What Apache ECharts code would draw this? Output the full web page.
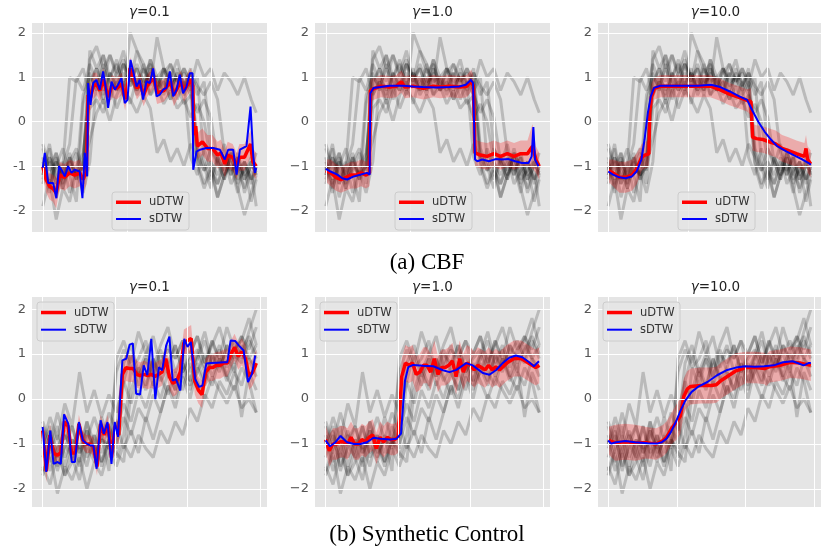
<!DOCTYPE html>
<html><head><meta charset="utf-8">
<script src="https://cdn.jsdelivr.net/npm/echarts@6/dist/echarts.min.js"></script>
<style>html,body{margin:0;padding:0;background:#fff}#c{width:821px;height:550px}</style>
</head><body><div id="c"></div>
<script>
// ---------- tick labels / names ----------
const gammaLabels = ['0.1', '1.0', '10.0'];
const yTicks = [-2, -1, 0, 1, 2];
const cbfXTicks = [0, 50, 100];
const scXTicks = [0, 20, 40, 60];
const legendNames = ['uDTW', 'sDTW'];
const captions = ['(a) CBF', '(b) Synthetic Control'];

// ---------- CBF dataset samples (grey), sampled every 4 steps of 128 ----------
const cbfGray1 = [-0.9,-1.3,-0.7,-1.5,-1.0,-1.2,-0.8,0.9,1.2,0.6,1.0,1.4,0.7,1.1,0.8,1.3,0.6,1.0,1.2,0.7,1.1,0.9,-0.8,-1.2,-0.6,-1.1,-1.4,-0.9,-1.2,-0.7,-1.3,-1.0,-1.1];
const cbfGray2 = [-1.2,-0.6,-1.4,-1.0,-0.5,1.0,0.7,1.3,0.9,1.5,0.8,1.1,1.6,0.9,1.2,0.7,1.4,1.0,0.8,1.3,0.9,1.1,0.7,1.0,-0.9,-1.3,-0.8,-1.1,-0.6,-1.2,-0.9,-1.4,-1.0];
const cbfGray3 = [-1.0,-1.6,-0.8,-1.3,-1.1,-0.7,-1.4,0.3,0.5,0.2,0.7,0.9,0.6,2.0,1.6,1.3,0.8,1.9,1.2,1.0,1.4,0.8,1.2,-0.6,-1.0,-1.5,-0.8,-1.2,-1.0,-1.6,-0.9,-1.3,-1.1];
const cbfGray4 = [-0.6,-1.1,-0.9,-1.4,-0.8,-1.2,-1.0,1.4,1.7,1.2,1.5,1.1,1.4,1.0,1.2,0.8,1.1,0.7,0.9,0.5,0.8,0.4,0.6,0.2,0.5,0.1,-0.9,-1.3,-0.7,-1.1,-1.5,-0.9,-1.2];
const cbfGray5 = [-1.1,-0.5,-1.3,-0.9,-1.6,-1.0,-0.7,0.6,0.9,0.4,0.8,0.3,0.7,0.5,0.2,0.6,0.3,-0.7,-0.4,-0.9,-0.6,-1.0,-0.5,-0.8,-1.1,-0.6,-0.9,-1.3,-0.7,-1.0,-1.2,-0.8,-1.0];
const cbfGray6 = [-1.4,-0.9,-1.7,-1.2,-0.8,-1.3,-1.0,-0.4,0.2,0.5,0.0,0.6,0.9,0.4,1.0,0.7,1.2,0.8,1.1,1.3,0.9,1.2,0.8,1.4,1.0,1.2,0.7,1.1,0.9,0.6,1.0,0.5,0.2];
const cbfGray7 = [-0.8,-1.5,-1.0,-0.6,-1.2,-1.8,0.4,1.1,0.7,1.3,0.5,1.0,0.8,1.2,0.6,0.9,1.4,0.7,1.0,0.5,1.2,0.8,1.1,0.6,0.9,-0.6,-1.0,-0.5,-1.2,-0.8,-1.6,-1.1,-1.9];
const cbfGray8 = [-1.9,-1.3,-2.2,-1.5,-1.8,-1.1,-1.6,-0.9,0.9,0.5,1.1,0.7,1.3,0.8,1.0,0.6,1.2,0.9,0.7,1.1,0.5,0.9,0.6,-1.0,-1.5,-1.1,-1.7,-1.2,-0.8,-1.4,-1.0,-1.8,-1.3];
const cbfGray9 = [-0.5,-1.0,-0.7,-1.2,-0.9,-0.6,-1.1,0.8,1.2,0.9,1.5,1.0,1.3,0.9,1.6,1.1,1.3,0.8,1.2,0.9,1.0,0.7,1.1,0.8,0.6,0.9,0.5,-0.7,-1.1,-0.8,-1.3,-1.0,-0.7];
const cbfGray10 = [-1.2,-0.8,-1.4,-1.0,1.0,0.9,1.2,0.6,1.0,0.7,1.1,0.8,1.3,1.0,0.7,1.2,0.9,1.0,0.6,1.1,0.8,1.2,0.9,-0.9,-1.4,-1.0,-1.7,-1.2,-0.9,-1.5,-2.1,-1.6,-1.2];
const cbfGray11 = [-1.0,-1.4,-0.9,-1.2,-0.7,-1.3,0.6,1.0,0.8,1.2,0.9,0.7,1.1,0.8,1.3,0.9,1.0,0.7,1.2,0.8,1.0,0.6,0.9,-0.7,-1.1,-0.9,-1.4,-1.0,-0.8,-1.3,-1.1,-0.9,-1.2];
const cbfGray12 = [-1.3,-0.8,-1.1,-1.5,-0.9,-1.2,-1.0,1.6,1.2,1.5,1.0,1.3,0.9,1.1,0.7,1.0,0.6,0.8,0.4,0.7,0.3,0.5,0.1,0.4,0.0,-0.9,-1.2,-0.8,-1.4,-1.1,-0.9,-1.3,-1.0];
const cbfGray = [cbfGray1,cbfGray2,cbfGray3,cbfGray4,cbfGray5,cbfGray6,cbfGray7,cbfGray8,cbfGray9,cbfGray10,cbfGray11,cbfGray12];

// ---------- Synthetic Control dataset samples (grey), 30 samples over 60 steps ----------
const scGray1 = [-0.6,-1.2,-0.8,-1.5,-0.9,-1.1,-0.5,-1.3,-0.9,-1.0,-0.7,0.8,1.2,0.6,1.0,1.4,0.7,1.1,0.9,1.3,0.6,1.0,1.5,0.8,1.2,0.7,1.1,1.4,0.9,1.2];
const scGray2 = [-1.1,-0.7,-1.6,-1.0,-1.3,-0.6,-1.2,-0.8,-1.4,-0.9,-1.1,0.4,1.0,0.5,0.9,0.3,0.8,1.2,0.6,1.0,0.4,0.9,1.3,0.7,1.1,0.5,1.0,0.8,1.3,0.9];
const scGray3 = [-1.5,-1.9,-1.2,-1.7,-1.4,-1.0,-1.5,-0.8,-1.2,-0.6,-1.0,-0.4,-0.8,-0.2,-0.5,0.1,-0.3,0.3,0.0,0.6,0.2,0.8,0.4,1.0,0.7,1.2,0.9,1.4,1.1,1.6];
const scGray4 = [-1.0,-0.4,-0.9,-0.1,-0.6,0.6,-0.3,0.2,-0.4,0.1,-0.3,0.4,-0.1,0.6,0.2,0.9,0.4,0.7,1.2,0.6,1.0,1.4,0.8,1.3,0.9,1.6,1.1,1.3,1.8,1.2];
const scGray5 = [-0.8,-1.4,-1.0,-1.7,-1.1,-0.6,-1.3,-1.0,-1.5,-0.9,-1.2,-1.4,0.2,0.7,0.3,0.9,0.5,0.1,0.6,0.2,0.8,0.4,0.0,0.5,0.2,-0.1,0.3,-0.2,0.0,-0.3];
const scGray6 = [-1.7,-1.2,-2.1,-1.5,-1.8,-1.3,-2.0,-1.4,-1.7,-1.1,-1.5,-1.0,-1.3,-0.8,-1.1,-1.3,-0.7,-1.0,-0.5,-0.8,-0.2,-0.5,0.1,-0.2,0.4,0.1,0.6,0.3,0.9,0.5];
const scGray7 = [-0.9,-1.6,-1.1,-0.7,-1.3,-1.8,-1.0,-1.4,-0.8,-1.6,0.9,1.3,0.8,1.5,1.0,0.7,1.2,1.6,0.9,1.3,1.0,1.4,0.8,1.2,1.6,1.0,1.3,0.9,1.5,2.0];
const scGray8 = [-1.3,-0.8,-1.5,-1.1,-0.6,-1.2,-0.9,-0.4,-0.9,-0.3,-0.7,-0.1,-0.5,0.2,-0.2,0.4,0.0,0.6,0.2,0.8,0.3,0.6,1.0,0.5,0.9,0.4,0.8,-0.4,0.6,0.2];
const scGray9 = [-0.5,-1.0,-0.3,-0.9,-0.6,-1.2,-0.7,-1.1,-0.4,-0.9,-1.3,-0.8,0.7,0.3,0.9,0.5,1.1,0.6,0.2,0.8,0.4,1.0,0.6,0.3,0.9,0.5,0.2,0.7,0.4,-0.3];
const scGray10 = [-1.6,-1.1,-0.6,-1.3,-0.9,-1.4,-0.5,-1.0,-1.4,-0.9,-0.5,-1.1,-0.7,-1.2,-0.4,-0.9,-0.3,0.3,-0.2,0.5,0.0,0.7,0.3,1.0,0.6,1.2,0.8,1.1,1.4,1.0];
const scGray11 = [-1.0,-0.6,-1.3,-0.8,-1.1,-1.5,-0.7,-1.2,-0.9,-1.1,0.6,1.1,0.7,0.9,1.3,0.5,1.0,0.8,1.2,0.6,0.9,1.1,0.7,1.3,0.8,1.0,0.6,1.2,0.9,0.7];
const scGray = [scGray1,scGray2,scGray3,scGray4,scGray5,scGray6,scGray7,scGray8,scGray9,scGray10,scGray11];

// ---------- uDTW barycenters: [t, mean, spread] ----------
const cbfRed01 = [[0,-1.0,0.2],[2,-1.3,0.3],[4,-1.45,0.3],[6,-1.5,0.3],[8,-1.6,0.35],[10,-1.2,0.3],[13,-1.25,0.3],[16,-1.15,0.3],[19,-1.2,0.3],[22,-1.15,0.3],[24,-1.3,0.3],[26,-1.1,0.3],[27,0.6,0.3],[28.5,0.55,0.3],[30,0.8,0.3],[32,0.85,0.25],[34,0.7,0.25],[36,0.95,0.25],[39,0.55,0.25],[41,0.8,0.25],[44,0.75,0.25],[47,0.85,0.25],[49,0.5,0.25],[52,1.2,0.25],[54,1.0,0.25],[56,0.75,0.25],[58,0.85,0.25],[60,0.6,0.25],[62,0.8,0.25],[66,1.0,0.25],[68,0.65,0.25],[72,0.7,0.25],[76,0.9,0.25],[78,0.6,0.25],[82,0.9,0.25],[84,0.7,0.25],[88,0.95,0.25],[89.3,0.8,0.25],[89.8,-0.3,0.3],[91,-0.1,0.3],[92,-0.55,0.3],[95,-0.45,0.3],[98,-0.6,0.3],[101,-0.6,0.3],[104,-0.75,0.3],[106,-0.7,0.3],[108.3,-0.95,0.3],[110,-0.75,0.3],[113,-0.8,0.3],[115.3,-1.0,0.3],[117,-0.8,0.3],[120,-0.8,0.3],[123.6,-0.5,0.3],[125,-0.9,0.3],[127,-1.0,0.3]];
const cbfRed1 = [[0,-1.1,0.25],[3,-1.15,0.3],[6,-1.25,0.3],[9,-1.3,0.3],[12,-1.25,0.3],[15,-1.2,0.3],[18,-1.2,0.3],[21,-1.15,0.3],[24,-1.2,0.3],[26,-1.15,0.3],[26.5,0.7,0.25],[29,0.75,0.25],[33,0.8,0.25],[38,0.78,0.25],[42,0.8,0.25],[45,0.9,0.25],[47,0.78,0.25],[52,0.8,0.25],[58,0.75,0.25],[64,0.8,0.25],[68,0.78,0.25],[74,0.8,0.25],[80,0.78,0.25],[84,0.8,0.25],[86.5,0.92,0.25],[87.8,0.8,0.25],[88.8,-0.7,0.3],[92,-0.75,0.3],[96,-0.78,0.3],[100,-0.72,0.3],[104,-0.78,0.3],[108,-0.72,0.3],[112,-0.78,0.3],[116,-0.72,0.3],[120,-0.72,0.3],[123,-0.55,0.5],[125,-0.85,0.3],[127,-1.0,0.3]];
const cbfRed10 = [[0,-1.1,0.25],[3,-1.15,0.3],[7,-1.25,0.35],[11,-1.25,0.35],[15,-1.2,0.35],[18,-1.05,0.35],[21,-0.8,0.3],[23,-0.75,0.3],[25.5,-0.72,0.3],[26,0.2,0.3],[27,0.55,0.3],[29,0.75,0.25],[33,0.8,0.25],[41,0.8,0.25],[49,0.8,0.25],[57,0.8,0.25],[64,0.8,0.25],[70,0.72,0.25],[76,0.62,0.25],[82,0.55,0.25],[87,0.48,0.25],[89.5,0.45,0.3],[90.5,-0.35,0.3],[93,-0.38,0.3],[97,-0.4,0.3],[101,-0.45,0.3],[105,-0.5,0.3],[109,-0.6,0.3],[113,-0.65,0.3],[118,-0.72,0.3],[123,-0.78,0.3],[124,-0.6,0.3],[125,-0.85,0.3],[127,-0.95,0.3]];
const scRed01 = [[0,-0.7,0.25],[1,-1.6,0.25],[2,-0.8,0.25],[3,-1.2,0.2],[4,-1.25,0.2],[5,-1.2,0.2],[6,-0.5,0.2],[7,-0.6,0.2],[8,-1.2,0.2],[9,-1.2,0.2],[10,-0.55,0.2],[11,-0.9,0.2],[12,-1.0,0.2],[13,-1.0,0.2],[14,-1.05,0.2],[15,-1.5,0.2],[16,-0.55,0.2],[17,-0.8,0.2],[18,-0.55,0.2],[19,-1.3,0.2],[20,-0.6,0.2],[21,-0.8,0.25],[22,0.55,0.3],[23,0.7,0.3],[24,0.68,0.3],[25,0.68,0.3],[26,0.55,0.3],[27,0.52,0.3],[28,0.55,0.3],[29,0.52,0.3],[30,0.55,0.3],[31,0.5,0.3],[32,0.55,0.3],[33,0.6,0.3],[34,0.9,0.3],[35,0.5,0.3],[36,0.35,0.3],[37,0.4,0.3],[38,0.6,0.3],[39,1.25,0.3],[40,1.3,0.3],[41,1.35,0.3],[42,0.4,0.3],[43,0.2,0.3],[44,0.1,0.3],[45,0.6,0.3],[46,0.7,0.3],[47,0.7,0.3],[48,0.75,0.3],[49,0.75,0.3],[50,0.8,0.3],[51,0.8,0.3],[52,1.0,0.3],[53,1.15,0.3],[54,0.95,0.3],[55,1.05,0.3],[56,0.9,0.3],[57,0.5,0.3],[58,0.6,0.3],[59,0.8,0.3]];
const scRed1 = [[0,-0.9,0.3],[1,-1.15,0.35],[2,-1.0,0.35],[3,-1.0,0.35],[4,-0.95,0.35],[5,-0.95,0.35],[6,-1.0,0.35],[7,-0.85,0.35],[8,-1.0,0.35],[9,-1.0,0.35],[10,-0.9,0.35],[11,-0.95,0.35],[12,-0.85,0.35],[13,-0.8,0.35],[14,-1.1,0.35],[15,-0.85,0.35],[16,-0.95,0.35],[17,-0.85,0.35],[18,-0.9,0.35],[19,-0.9,0.35],[20,-0.85,0.35],[21,0.5,0.4],[22,0.8,0.4],[23,0.75,0.4],[24,0.8,0.4],[25,0.55,0.4],[26,0.6,0.4],[27,0.75,0.4],[28,0.75,0.4],[29,0.6,0.4],[30,0.9,0.4],[31,0.55,0.4],[32,0.7,0.4],[33,0.7,0.4],[34,0.75,0.4],[35,0.85,0.4],[36,0.5,0.4],[37,0.9,0.4],[38,0.6,0.4],[39,0.8,0.4],[40,0.75,0.4],[41,0.65,0.4],[42,0.75,0.4],[43,0.7,0.4],[44,0.65,0.4],[45,0.75,0.4],[46,0.65,0.4],[47,0.72,0.4],[48,0.65,0.4],[50,0.8,0.4],[52,0.9,0.4],[54,0.9,0.4],[56,0.8,0.4],[58,0.7,0.4],[59,0.75,0.4]];
const scRed10 = [[0,-0.92,0.3],[2,-0.97,0.4],[5,-0.95,0.4],[8,-0.97,0.4],[11,-0.97,0.35],[14,-1.0,0.35],[16,-0.92,0.35],[17,-0.85,0.35],[18.5,-0.65,0.35],[20,-0.5,0.4],[21,-0.38,0.4],[22,0.05,0.4],[23,0.22,0.4],[24,0.28,0.4],[27,0.3,0.4],[30,0.3,0.4],[31.5,0.32,0.4],[33,0.42,0.4],[35,0.52,0.4],[37,0.62,0.4],[40,0.7,0.35],[43,0.7,0.35],[45.5,0.68,0.35],[46,0.64,0.35],[47,0.72,0.35],[50,0.75,0.35],[53,0.82,0.35],[56,0.8,0.35],[59,0.75,0.35]];

// ---------- sDTW barycenters: [t, value] ----------
const cbfBlue01 = [[0,-1.04],[1.2,-0.7],[3.2,-1.38],[6.2,-1.38],[8.1,-1.72],[9.7,-1.0],[11.1,-1.08],[13.1,-1.23],[15.1,-1.0],[17.1,-1.15],[19,-1.08],[22,-1.12],[23.6,-1.72],[25,-0.7],[26.4,-1.23],[27,0.87],[28.4,0.38],[30,0.87],[31.9,0.94],[33.9,0.72],[35.9,1.13],[37.5,0.76],[38.9,0.31],[40.9,0.9],[42.9,0.72],[44.8,0.83],[46.8,0.98],[48.8,0.42],[50.4,0.49],[52.2,1.39],[53.8,1.13],[55.8,0.79],[57.7,0.94],[59.7,0.5],[61.7,0.91],[63.7,0.87],[65.7,1.2],[67.7,0.57],[69.6,0.61],[71.6,0.72],[73.6,0.76],[75.6,1.13],[77.6,0.57],[79.6,0.72],[81.5,1.06],[83.5,0.64],[85.5,0.79],[87.5,1.09],[89.1,1.09],[89.5,-1.08],[91.5,-0.67],[93.5,-0.63],[97.4,-0.59],[101.4,-0.59],[105.4,-0.63],[108.3,-0.85],[110.3,-0.63],[113.3,-0.63],[115.3,-1.19],[117.3,-0.63],[121.2,-0.55],[123.6,0.34],[125.2,-0.75],[126.2,-1.15],[127,-1.04]];
const cbfBlue1 = [[0,-1.06],[2.9,-1.12],[6.9,-1.19],[9.8,-1.27],[12.7,-1.3],[16.7,-1.23],[20.6,-1.19],[24.5,-1.15],[26.1,-1.19],[26.5,0.64],[28.4,0.76],[32.4,0.78],[38.2,0.81],[46.1,0.81],[52,0.79],[57.8,0.78],[65.7,0.77],[73.5,0.78],[79.4,0.79],[83.3,0.83],[86.3,0.94],[87.6,0.87],[88.8,-0.85],[90.2,-0.89],[93.1,-0.85],[97.1,-0.89],[101,-0.84],[104.9,-0.85],[108.8,-0.84],[112.7,-0.89],[116.7,-0.93],[120.6,-0.93],[122.5,-0.78],[123.5,-0.12],[124.5,-0.85],[126.5,-1.0]];
const cbfBlue10 = [[0,-1.12],[3,-1.19],[6.9,-1.25],[10.9,-1.27],[14.9,-1.23],[17.8,-1.12],[20.8,-0.85],[22.8,-0.4],[24.8,0.19],[26.7,0.57],[28.7,0.76],[32.7,0.81],[40.6,0.81],[48.5,0.81],[56.4,0.81],[64.4,0.83],[70.3,0.78],[76.2,0.68],[82.2,0.57],[87.1,0.49],[90.1,0.27],[94.1,0],[98,-0.22],[102,-0.4],[105.9,-0.55],[111.9,-0.67],[117.8,-0.78],[121.8,-0.85],[125.7,-0.93],[127,-0.97]];
const scBlue01 = [[0,-0.62],[1,-1.62],[2.1,-0.7],[3,-1.44],[4.1,-1.4],[5,-1.44],[5.9,-0.34],[7.1,-0.55],[8,-1.4],[8.9,-1.4],[10,-0.51],[11.1,-0.92],[12.1,-0.99],[13.1,-1.03],[14,-1.03],[14.9,-1.55],[16,-0.47],[16.9,-0.77],[17.9,-0.51],[19,-1.44],[19.9,-0.51],[20.8,-0.84],[22,0.86],[23.1,0.9],[24,1.21],[24.9,1.24],[25.8,0.12],[26.9,0.1],[27.9,0.75],[28.9,0.53],[30,1.34],[31.1,0.0],[32.1,0.71],[33,0.64],[34.1,1.19],[35,1.39],[35.9,0.41],[36.8,0.45],[38,0.19],[39.1,1.34],[40,1.16],[40.9,1.27],[42.1,0.45],[43.2,0.27],[44.1,0.3],[45.2,0.79],[46.4,0.8],[48.2,0.81],[50,0.82],[51,0.82],[51.9,1.3],[53.2,1.29],[54.2,1.19],[55.5,1.08],[56.7,0.38],[57.8,0.56],[58.7,0.97]];
const scBlue1 = [[0,-0.92],[1.2,-1.05],[2.7,-0.96],[4.1,-0.82],[5.9,-0.96],[7.8,-1.0],[9.6,-1.0],[11.4,-0.96],[13.2,-0.86],[15.1,-0.88],[17.8,-0.9],[19.6,-0.88],[20.8,-0.77],[21.9,0.41],[22.8,0.71],[24.2,0.76],[26.9,0.74],[29.7,0.73],[32.4,0.64],[34.2,0.6],[36.1,0.65],[38.8,0.8],[40.6,0.75],[43.4,0.58],[45.2,0.54],[47,0.64],[48.9,0.8],[50.7,0.92],[52.5,0.97],[54.3,0.93],[56.2,0.82],[57.5,0.73],[58.9,0.84]];
const scBlue10 = [[0,-0.92],[0.9,-0.99],[2.3,-0.96],[5,-0.93],[7.8,-0.96],[11.5,-0.98],[14.2,-0.99],[15.6,-0.96],[17,-0.88],[18.3,-0.73],[19.7,-0.51],[21.1,-0.25],[22.5,-0.03],[24.3,0.16],[26.1,0.27],[28.9,0.38],[31.7,0.53],[34.4,0.64],[37.2,0.7],[39.9,0.73],[42.7,0.72],[45.4,0.73],[48.2,0.75],[50.9,0.82],[53.7,0.84],[55.5,0.79],[56.9,0.75],[58.3,0.8],[59,0.8]];

// ---------- layout ----------
const PANEL_LEFTS = [32, 315, 598];
const PANEL_W = 235;
const ROWS = [
  { top: 23, h: 209, ymin: -2.48, ymax: 2.22, xmin: -6.4, xmax: 133.4, xTicks: cbfXTicks,
    gray: cbfGray, grayX: i => Math.min(i * 4, 127), reds: [cbfRed01, cbfRed1, cbfRed10], blues: [cbfBlue01, cbfBlue1, cbfBlue10],
    legTop: 192, legLeft: 80, legH: 38, titleY: 12, caption: captions[0], capY: 263 },
  { top: 297, h: 210, ymin: -2.4, ymax: 2.27, xmin: -2.95, xmax: 61.95, xTicks: scXTicks,
    gray: scGray, grayX: i => i * 59 / 29, reds: [scRed01, scRed1, scRed10], blues: [scBlue01, scBlue1, scBlue10],
    legTop: 302, legLeft: 5, legH: 39, titleY: 287, caption: captions[1], capY: 535 }
];

const grid = [], xAxis = [], yAxis = [], series = [], graphic = [];
ROWS.forEach((R, r) => {
  PANEL_LEFTS.forEach((L, c) => {
    const k = r * 3 + c;
    grid.push({ left: L, top: R.top, width: PANEL_W, height: R.h, show: true, backgroundColor: '#E5E5E5', borderWidth: 0, containLabel: false });
    xAxis.push({ type: 'value', gridIndex: k, min: R.xmin, max: R.xmax,
      axisLine: { show: false }, axisTick: { show: false }, axisLabel: { show: false }, splitLine: { show: false } });
    yAxis.push({ type: 'value', gridIndex: k, min: R.ymin, max: R.ymax,
      axisLine: { show: false }, splitLine: { show: false },
      axisTick: { show: true, length: 3.5, customValues: yTicks, lineStyle: { color: '#555', width: 1 } },
      axisLabel: { show: true, customValues: yTicks, margin: 6, color: '#555', fontSize: 13, fontFamily: 'DejaVu Sans',
        formatter: v => c === 0 ? String(v) : String(v).replace('-', '\u2212') } });
    // white grid lines
    series.push({ type: 'line', xAxisIndex: k, yAxisIndex: k, data: [[0, 0]], showSymbol: false, silent: true, z: 1,
      lineStyle: { opacity: 0 },
      markLine: { silent: true, symbol: 'none', animation: false, label: { show: false },
        lineStyle: { color: '#ffffff', width: 1, type: 'solid' },
        emphasis: { disabled: true },
        data: yTicks.map(v => ({ yAxis: v })).concat(R.xTicks.map(v => ({ xAxis: v }))) } });
    // grey dataset series
    R.gray.forEach(arr => {
      series.push({ type: 'line', xAxisIndex: k, yAxisIndex: k, z: 2, silent: true, showSymbol: false,
        data: arr.map((v, i) => [R.grayX(i), v]),
        lineStyle: { color: 'rgba(0,0,0,0.19)', width: 3 } });
    });
    const red = R.reds[c], blue = R.blues[c];
    // uDTW spread band
    series.push({ type: 'custom', xAxisIndex: k, yAxisIndex: k, z: 3, silent: true,
      data: red.map(d => [d[0], d[1]]), encode: { x: 0, y: 1 },
      renderItem: (params, api) => {
        if (params.dataIndex !== 0) return null;
        const up = red.map(d => api.coord([d[0], d[1] + d[2]]));
        const lo = red.map(d => api.coord([d[0], d[1] - d[2]])).reverse();
        return { type: 'polygon', shape: { points: up.concat(lo) }, style: { fill: 'rgba(255,0,0,0.25)' } };
      } });
    series.push({ name: legendNames[0], type: 'line', xAxisIndex: k, yAxisIndex: k, z: 4, showSymbol: false,
      data: red.map(d => [d[0], d[1]]), lineStyle: { color: '#ff0000', width: 3.5 }, itemStyle: { color: '#ff0000' } });
    series.push({ name: legendNames[1], type: 'line', xAxisIndex: k, yAxisIndex: k, z: 5, showSymbol: false,
      data: blue, lineStyle: { color: '#0000ff', width: 2 }, itemStyle: { color: '#0000ff' } });

    // title
    graphic.push({ type: 'text', x: L + PANEL_W / 2, y: R.titleY, z: 100,
      style: { text: '{i|\u03b3}=' + gammaLabels[c], fontSize: 13.5, fontFamily: 'DejaVu Sans', fill: '#222', align: 'center', verticalAlign: 'middle',
        rich: { i: { fontStyle: 'italic', fontSize: 13.5, fontFamily: 'DejaVu Sans', fill: '#222' } } } });
    // legend box
    const bx = L + R.legLeft, by = R.legTop;
    graphic.push({ type: 'rect', z: 100, shape: { x: bx, y: by, width: 77, height: R.legH, r: 3 }, style: { fill: 'rgba(229,229,229,0.85)', stroke: '#cccccc', lineWidth: 1 } });
    graphic.push({ type: 'line', z: 101, shape: { x1: bx + 4, y1: by + R.legH * 0.27, x2: bx + 29, y2: by + R.legH * 0.27 }, style: { stroke: '#ff0000', lineWidth: 3.5 } });
    graphic.push({ type: 'line', z: 101, shape: { x1: bx + 4, y1: by + R.legH * 0.71, x2: bx + 29, y2: by + R.legH * 0.71 }, style: { stroke: '#0000ff', lineWidth: 2 } });
    graphic.push({ type: 'text', z: 101, x: bx + 37, y: by + R.legH * 0.27, style: { text: legendNames[0], fontSize: 11.5, fontFamily: 'DejaVu Sans', fill: '#333', verticalAlign: 'middle' } });
    graphic.push({ type: 'text', z: 101, x: bx + 37, y: by + R.legH * 0.71, style: { text: legendNames[1], fontSize: 11.5, fontFamily: 'DejaVu Sans', fill: '#333', verticalAlign: 'middle' } });
  });
  graphic.push({ type: 'text', x: 427, y: R.capY, z: 100,
    style: { text: R.caption, fontSize: 23, fontFamily: 'Liberation Serif', fill: '#000', align: 'center', verticalAlign: 'middle' } });
});

const chart = echarts.init(document.getElementById('c'), null, { renderer: 'canvas', width: 821, height: 550 });
chart.setOption({ animation: false, backgroundColor: '#ffffff', grid, xAxis, yAxis, series, graphic });
</script>
</body></html>
